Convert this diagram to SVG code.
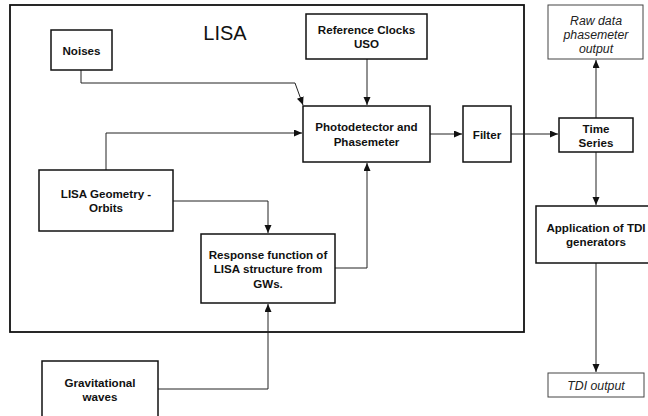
<svg xmlns="http://www.w3.org/2000/svg" width="648" height="416" viewBox="0 0 648 416">
<defs>
<style>
.box{fill:#fff;stroke:#111;stroke-width:1.5}
.obox{fill:#fff;stroke:#444;stroke-width:1}
.frame{fill:none;stroke:#111;stroke-width:1.8}
.t{font-family:"Liberation Sans",Arial,sans-serif;font-size:11.6px;font-weight:bold;text-anchor:middle;fill:#111}
.ti{font-family:"Liberation Sans",Arial,sans-serif;font-size:12.3px;font-style:italic;text-anchor:middle;fill:#222}
.title{font-family:"Liberation Sans",Arial,sans-serif;font-size:20px;text-anchor:middle;fill:#111}
.c{fill:none;stroke:#222;stroke-width:1;marker-end:url(#ah)}
</style>
<marker id="ah" markerUnits="userSpaceOnUse" markerWidth="9" markerHeight="8" refX="8" refY="3.5" orient="auto">
<path d="M0,0 L8,3.5 L0,7 z" fill="#111"/>
</marker>
</defs>
<rect width="648" height="416" fill="#fff"/>
<g id="lisa-frame">
<rect class="frame" x="10" y="5" width="514" height="327"/>
<text class="title" x="225" y="40">LISA</text>
</g>
<g id="connectors">
<path class="c" d="M81,70 V83 H295 L303,105"/>
<path class="c" d="M367,59 V105"/>
<path class="c" d="M106,170 V133 H302"/>
<path class="c" d="M430,134 H462"/>
<path class="c" d="M511,134 H558"/>
<path class="c" d="M596,118 V60"/>
<path class="c" d="M596,152 V205"/>
<path class="c" d="M596,263 V372"/>
<path class="c" d="M173,201 H268 V233"/>
<path class="c" d="M335,268 H367 V163"/>
<path class="c" d="M158,389 H268 V304"/>
</g>
<g id="noises">
<rect class="box" x="51" y="30" width="61" height="40"/>
<text class="t" x="81.5" y="55">Noises</text>
</g>
<g id="reference-clocks">
<rect class="box" x="306" y="14" width="121" height="45"/>
<text class="t" x="366.5" y="34">Reference Clocks</text>
<text class="t" x="366.5" y="48">USO</text>
</g>
<g id="photodetector">
<rect class="box" x="303" y="106" width="127" height="56"/>
<text class="t" x="366.5" y="131">Photodetector and</text>
<text class="t" x="366.5" y="146">Phasemeter</text>
</g>
<g id="filter">
<rect class="box" x="463" y="106" width="48" height="56"/>
<text class="t" x="487" y="139">Filter</text>
</g>
<g id="time-series">
<rect class="box" x="559" y="118" width="74" height="34"/>
<text class="t" x="596" y="133">Time</text>
<text class="t" x="596" y="147">Series</text>
</g>
<g id="raw-data">
<rect class="obox" x="548" y="5" width="95" height="54"/>
<text class="ti" x="596" y="25">Raw data</text>
<text class="ti" x="596" y="39">phasemeter</text>
<text class="ti" x="596" y="53">output</text>
</g>
<g id="tdi-generators">
<rect class="box" x="536" y="206" width="114" height="57"/>
<text class="t" x="596" y="232">Application of TDI</text>
<text class="t" x="596" y="246">generators</text>
</g>
<g id="tdi-output">
<rect class="obox" x="548" y="373" width="96" height="24"/>
<text class="ti" x="596" y="390">TDI output</text>
</g>
<g id="lisa-geometry">
<rect class="box" x="39" y="170" width="134" height="61"/>
<text class="t" x="106" y="198">LISA Geometry -</text>
<text class="t" x="106" y="212">Orbits</text>
</g>
<g id="response-function">
<rect class="box" x="201" y="234" width="134" height="69"/>
<text class="t" x="268" y="259">Response function of</text>
<text class="t" x="268" y="273">LISA structure from</text>
<text class="t" x="268" y="288">GWs.</text>
</g>
<g id="gravitational-waves">
<rect class="box" x="42" y="361" width="116" height="60"/>
<text class="t" x="100" y="387">Gravitational</text>
<text class="t" x="100" y="401">waves</text>
</g>
</svg>
